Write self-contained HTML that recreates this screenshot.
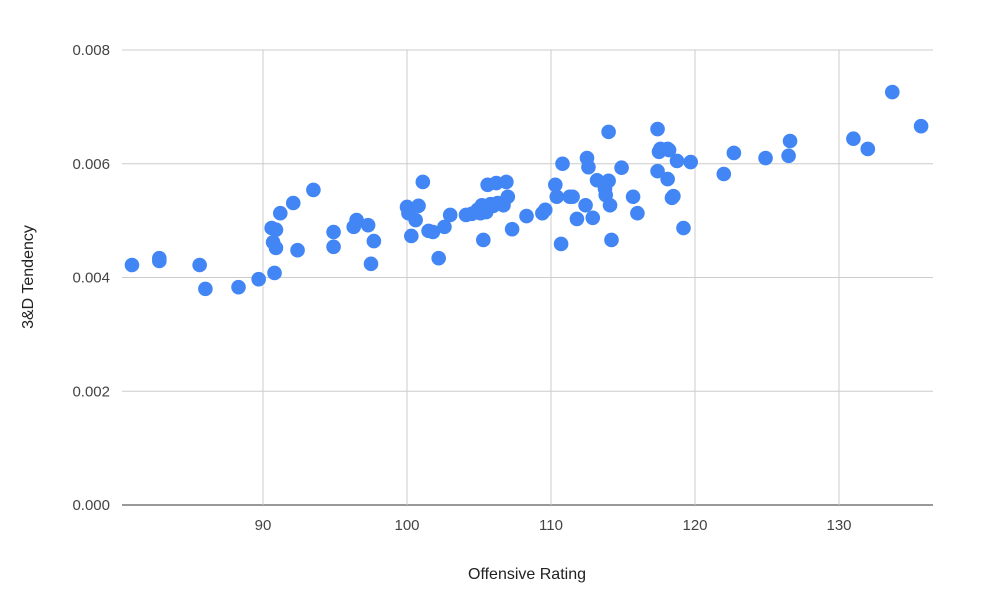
<!DOCTYPE html>
<html><head><meta charset="utf-8"><style>
html,body{margin:0;padding:0;background:#fff;}
svg{display:block;font-family:"Liberation Sans",Arial,sans-serif;}
</style></head><body>
<svg id="chart" width="996" height="604" viewBox="0 0 996 604" xmlns="http://www.w3.org/2000/svg">
<rect width="996" height="604" fill="#fff"/>
<g id="grid"></g>
<g id="points"></g>
<g id="labels"></g>
<text x="527" y="579" text-anchor="middle" font-size="16" fill="#222">Offensive Rating</text>
<text transform="translate(33,277) rotate(-90)" text-anchor="middle" font-size="16" fill="#222">3&amp;D Tendency</text>
</svg>
<script>
const xValues=[80.9,82.8,82.8,85.6,86.0,88.3,89.7,90.8,90.6,90.7,90.9,90.9,91.2,92.1,92.4,93.5,94.9,94.9,96.3,96.5,97.3,97.5,97.7,100.0,100.1,100.3,100.6,100.8,101.1,101.5,101.8,102.2,102.6,103.0,104.1,104.5,104.9,105.1,105.2,105.3,105.5,105.6,105.8,106.0,106.2,106.3,106.7,106.9,107.0,107.3,108.3,109.4,109.6,110.3,110.4,110.7,110.8,111.3,111.5,111.8,112.4,112.5,112.6,112.9,113.2,113.75,113.8,114.0,114.1,114.0,114.2,114.9,115.7,116.0,117.4,117.4,117.5,117.6,118.1,118.2,118.1,118.4,118.5,118.75,119.2,119.7,122.0,122.7,124.9,126.5,126.6,131.0,132.0,133.7,135.7];
const yValues=[0.00422,0.00434,0.00429,0.00422,0.00380,0.00383,0.00397,0.00408,0.00487,0.00462,0.00452,0.00484,0.00513,0.00531,0.00448,0.00554,0.00480,0.00454,0.00489,0.00501,0.00492,0.00424,0.00464,0.00524,0.00513,0.00473,0.00501,0.00526,0.00568,0.00482,0.00480,0.00434,0.00489,0.00510,0.00510,0.00512,0.00519,0.00513,0.00527,0.00466,0.00515,0.00563,0.00529,0.00526,0.00566,0.00531,0.00527,0.00568,0.00542,0.00485,0.00508,0.00513,0.00519,0.00563,0.00542,0.00459,0.00600,0.00542,0.00542,0.00503,0.00527,0.00610,0.00594,0.00505,0.00571,0.00556,0.00545,0.00570,0.00527,0.00656,0.00466,0.00593,0.00542,0.00513,0.00587,0.00661,0.00621,0.00626,0.00626,0.00624,0.00573,0.00540,0.00543,0.00605,0.00487,0.00603,0.00582,0.00619,0.00610,0.00614,0.00640,0.00644,0.00626,0.00726,0.00666];
const xTicks=[90,100,110,120,130];
const yTicks=[0,0.002,0.004,0.006,0.008];
const yTickLabels=["0.000","0.002","0.004","0.006","0.008"];
const NS="http://www.w3.org/2000/svg";
const L=122,R=933,T=50,B=505;
function sx(v){return 263+(v-90)*14.4;}
function sy(v){return B-(v/0.008)*(B-T);}
function mk(tag,attrs,parent){const e=document.createElementNS(NS,tag);for(const k in attrs)e.setAttribute(k,attrs[k]);parent.appendChild(e);return e;}
const grid=document.getElementById('grid'),pts=document.getElementById('points'),lab=document.getElementById('labels');
yTicks.forEach((t,i)=>{
  const ln=mk('line',{x1:L,x2:R,y1:sy(t),y2:sy(t),stroke:i===0?'#333':'#ccc','stroke-width':1},grid);
  
  
  const tx=mk('text',{x:110,y:sy(t)+5,'text-anchor':'end','font-size':15,fill:'#444'},lab);
  tx.textContent=yTickLabels[i];
  
  
});
xTicks.forEach(t=>{
  const ln=mk('line',{x1:sx(t),x2:sx(t),y1:T,y2:B,stroke:'#ccc','stroke-width':1},grid);
  
  
  const tx=mk('text',{x:sx(t),y:530,'text-anchor':'middle','font-size':15,fill:'#444'},lab);
  tx.textContent=String(t);
  
  
});
xValues.forEach((x,i)=>{
  const c=mk('circle',{cx:sx(x),cy:sy(yValues[i]),r:7.3,fill:'#4285f4'},pts);
  
  
});
</script>
</body></html>
